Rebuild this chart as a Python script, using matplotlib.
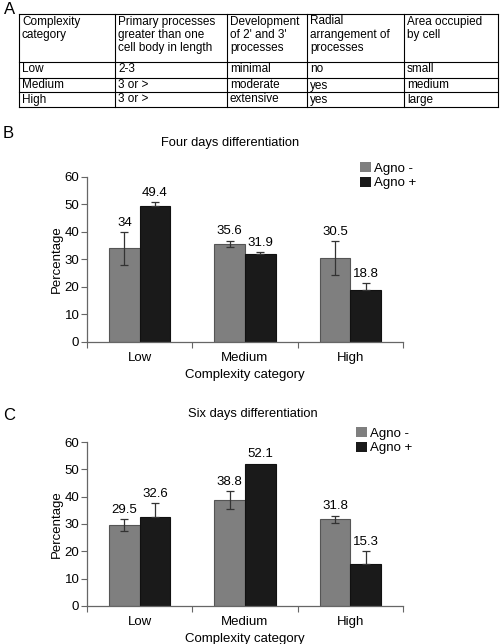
import numpy as np
import matplotlib
matplotlib.use("Agg")
import matplotlib.pyplot as plt
from matplotlib.patches import Patch

plt.rcParams['font.family'] = ['Liberation Sans', 'DejaVu Sans']

# ---------------- data ----------------
categories = ['Low', 'Medium', 'High']
series_names = ['Agno -', 'Agno +']

four_minus = [34, 35.6, 30.5]
four_minus_err = [6.0, 1.2, 6.2]
four_plus = [49.4, 31.9, 18.8]
four_plus_err = [1.5, 0.8, 2.6]

six_minus = [29.5, 38.8, 31.8]
six_minus_err = [2.2, 3.2, 1.3]
six_plus = [32.6, 52.1, 15.3]
six_plus_err = [5.0, 0.0, 4.8]

y_ticks = [0, 10, 20, 30, 40, 50, 60]

table_header = ['Complexity\ncategory',
                'Primary processes\ngreater than one\ncell body in length',
                "Development\nof 2' and 3'\nprocesses",
                'Radial\narrangement of\nprocesses',
                'Area occupied\nby cell']
table_rows = [['Low', '2-3', 'minimal', 'no', 'small'],
              ['Medium', '3 or >', 'moderate', 'yes', 'medium'],
              ['High', '3 or >', 'extensive', 'yes', 'large']]

GRAY = '#7f7f7f'
BLACK = '#1a1a1a'
W, H = 500, 644

fig = plt.figure(figsize=(5, 6.44), dpi=100)

# ---------------- table (panel A) ----------------
col_w = [96, 112, 80, 97, 94]
row_h = [48, 16, 14, 15]
tx0, ty0 = 19, 14
tw, th = sum(col_w), sum(row_h)
tax = fig.add_axes([tx0 / W, 1 - (ty0 + th) / H, tw / W, th / H])
tax.set_xlim(0, tw)
tax.set_ylim(th, 0)
tax.axis('off')
xs = np.concatenate([[0], np.cumsum(col_w)])
ys = np.concatenate([[0], np.cumsum(row_h)])
for x in xs:
    tax.plot([x, x], [0, th], color='black', lw=0.8, clip_on=False)
for y in ys:
    tax.plot([0, tw], [y, y], color='black', lw=0.8, clip_on=False)
all_rows = [table_header] + table_rows
for r, row in enumerate(all_rows):
    for c, txt in enumerate(row):
        tax.text(xs[c] + 3, ys[r] + 1.5, txt, ha='left', va='top',
                 fontsize=8.5, linespacing=1.15)

fig.text(4 / W, 1 - 9 / H, 'A', fontsize=12, ha='left', va='center')


# ---------------- bar panels ----------------
def bar_panel(top_px, bottom_px, minus, minus_err, plus, plus_err, title,
              title_px, letter, letter_px, legend_px):
    ax = fig.add_axes([87 / W, 1 - bottom_px / H, 316 / W, (bottom_px - top_px) / H])
    x = np.arange(len(categories))
    bw = 0.29
    ax.bar(x - bw / 2, minus, bw, color=GRAY, edgecolor='#555555', lw=0.8, zorder=2)
    ax.bar(x + bw / 2, plus, bw, color=BLACK, edgecolor='#111111', lw=0.8, zorder=2)
    for off, vals, errs, sym in [(-bw / 2, minus, minus_err, True),
                                 (bw / 2, plus, plus_err, False)]:
        vals = np.array(vals)
        errs = np.array(errs)
        m = errs > 0
        yerr = errs[m] if sym else [np.zeros(m.sum()), errs[m]]
        ax.errorbar(x[m] + off, vals[m], yerr=yerr, fmt='none', ecolor='#333333',
                    elinewidth=0.9, capsize=3, capthick=0.9, zorder=3)
        for xi, v, e in zip(x + off, vals, errs):
            ax.text(xi, v + e + 1.2, f'{v:g}', ha='center', va='bottom', fontsize=9.5)
    ax.set_xlim(-0.5, len(categories) - 0.5)
    ax.set_ylim(0, 60)
    ax.set_yticks(y_ticks)
    ax.set_xticks(np.arange(len(categories) + 1) - 0.5)
    ax.set_xticklabels([])
    ax.set_xticks(x, minor=True)
    ax.set_xticklabels(categories, minor=True, fontsize=9.5)
    ax.tick_params(axis='x', which='minor', length=0, pad=7)
    ax.tick_params(axis='x', which='major', length=4, color='#666666')
    ax.tick_params(axis='y', length=4, pad=1.5, labelsize=9.5, color='#666666')
    for s in ['top', 'right']:
        ax.spines[s].set_visible(False)
    for s in ['left', 'bottom']:
        ax.spines[s].set_color('#666666')
        ax.spines[s].set_linewidth(0.9)
    ax.set_ylabel('Percentage', fontsize=9.5, labelpad=1)
    ax.set_xlabel('Complexity category', fontsize=9.5, labelpad=4)
    fig.text(title_px[0] / W, 1 - title_px[1] / H, title, fontsize=9.3,
             ha='center', va='center')
    fig.text(letter_px[0] / W, 1 - letter_px[1] / H, letter, fontsize=12,
             ha='left', va='center')
    handles = [Patch(facecolor=GRAY, edgecolor='none'),
               Patch(facecolor=BLACK, edgecolor='none')]
    fig.legend(handles, series_names, loc='upper left',
               bbox_to_anchor=(legend_px[0] / W, 1 - legend_px[1] / H),
               frameon=False, fontsize=9.5, handlelength=0.8, handleheight=0.8,
               handletextpad=0.25, labelspacing=0.15, borderpad=0, borderaxespad=0)
    return ax


bar_panel(177, 342, four_minus, four_minus_err, four_plus, four_plus_err,
          'Four days differentiation', (230, 143), 'B', (3, 133), (360, 162))
bar_panel(442, 606, six_minus, six_minus_err, six_plus, six_plus_err,
          'Six days differentiation', (253, 414), 'C', (3, 415), (356, 427))

fig.savefig('out.png', dpi=100)
